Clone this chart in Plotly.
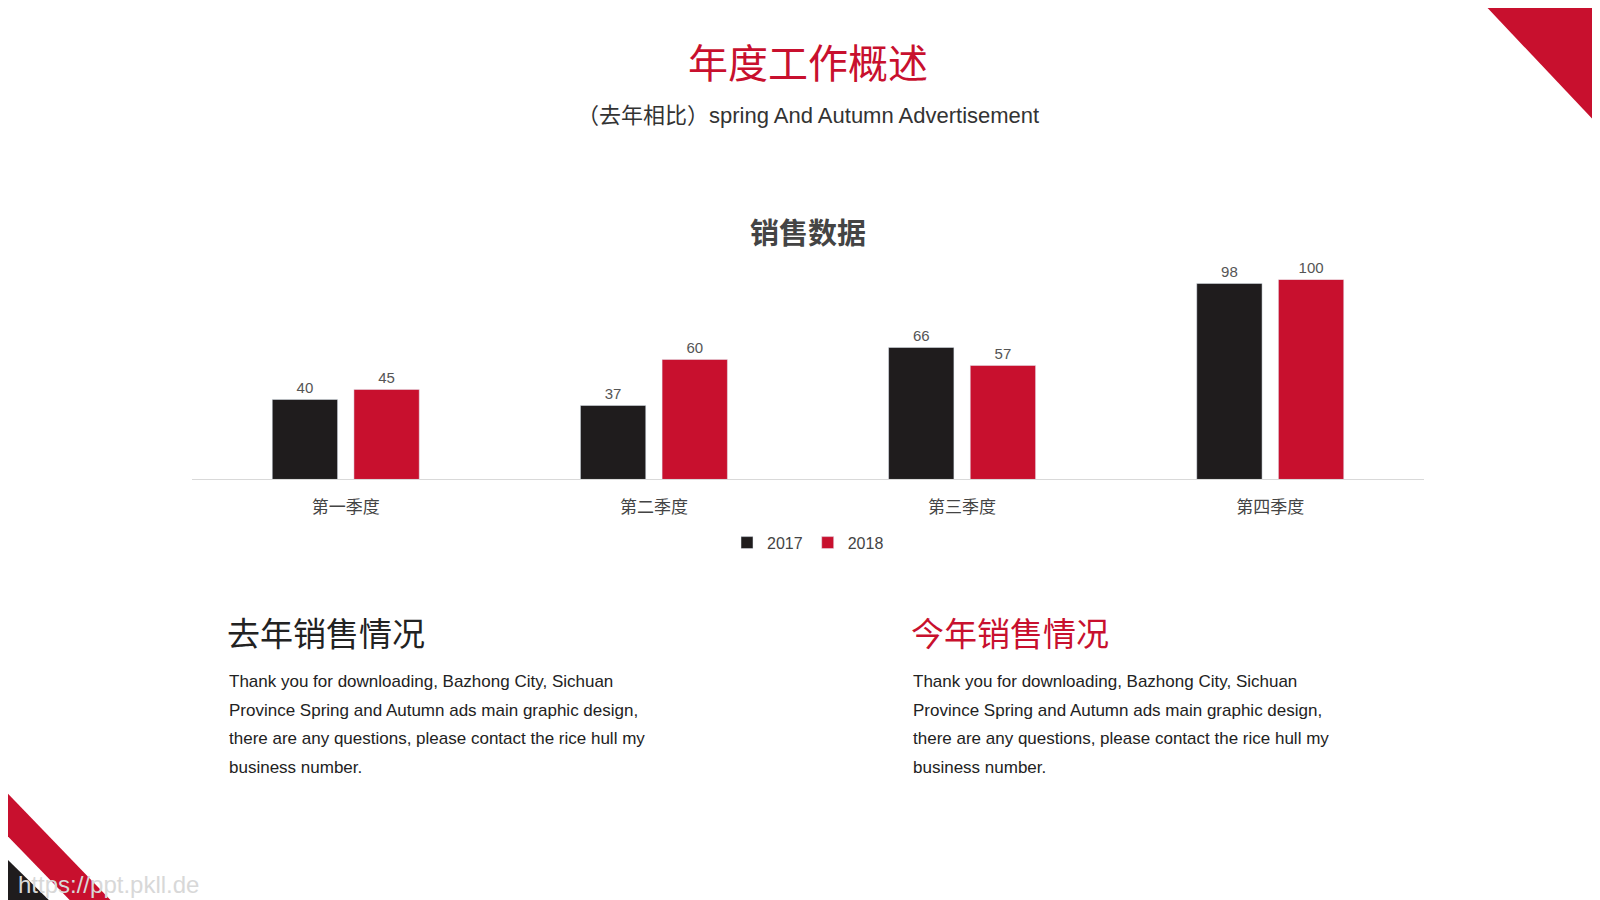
import plotly.graph_objects as go

quarters = ["第一季度", "第二季度", "第三季度", "第四季度"]
sales_2017 = [40, 37, 66, 98]
sales_2018 = [45, 60, 57, 100]
BLACK = "#1f1c1d"
RED = "#c8102e"
W, H = 1568.0, 882.0
FONT = "Liberation Sans, Noto Sans CJK SC"

fig = go.Figure()
for name, vals, col in [("2017", sales_2017, BLACK), ("2018", sales_2018, RED)]:
    fig.add_trace(go.Bar(x=quarters, y=vals, name=name, marker_color=col,
                         text=vals, textposition="outside", cliponaxis=False,
                         textfont=dict(size=15, color="#555555")))

def px(x): return x / W
def py(y): return 1 - y / H

shapes = [
    dict(type="path", xref="paper", yref="paper", fillcolor=RED, line_width=0,
         path=f"M {px(1450)} {py(0)} L {px(W)} {py(0)} L {px(W)} {py(125)} Z"),
    dict(type="path", xref="paper", yref="paper", fillcolor=RED, line_width=0,
         path=f"M 0 {py(770)} L {px(108)} {py(H)} L {px(68)} {py(H)} L 0 {py(812)} Z"),
    dict(type="path", xref="paper", yref="paper", fillcolor=BLACK, line_width=0,
         path=f"M 0 {py(835)} L {px(48)} {py(H)} L 0 {py(H)} Z"),
]

ann = [
    dict(text="年度工作概述", x=0.5, y=py(55), font=dict(size=40, color=RED)),
    dict(text="（去年相比）spring And Autumn Advertisement", x=0.5, y=py(105),
         font=dict(size=22, color="#333333")),
    dict(text="<b>销售数据</b>", x=0.5, y=py(221), font=dict(size=29, color="#444444")),
    dict(text="https://ppt.pkll.de", x=px(8), y=py(859), xanchor="left",
         font=dict(size=24, color="#d8d8d8")),
]
body = ["Thank you for downloading, Bazhong City, Sichuan",
        "Province Spring and Autumn ads main graphic design,",
        "there are any questions, please contact the rice hull my",
        "business number."]
for x0, head, col in [(215, "去年销售情况", "#222222"), (885, "今年销售情况", RED)]:
    ann.append(dict(text=head, x=px(x0 - 2), y=py(614), xanchor="left",
                    font=dict(size=33, color=col)))
    for i, line in enumerate(body):
        ann.append(dict(text=line, x=px(x0), y=py(660 + 28 * i), xanchor="left",
                        font=dict(size=17, color="#222222")))
for a in ann:
    a.update(xref="paper", yref="paper", showarrow=False,
             yanchor="middle", font=dict(family=FONT, **a["font"]))
    a.setdefault("xanchor", "center")

fig.update_layout(
    width=1600, height=900, margin=dict(l=0, r=0, t=0, b=0),
    paper_bgcolor="white", plot_bgcolor="white",
    font=dict(family=FONT),
    barmode="group", bargap=0.47, bargroupgap=0.2,
    xaxis=dict(domain=[px(180), px(1388)], showline=True, linecolor="#d9d9d9",
               tickfont=dict(size=17, color="#444444"), ticks="outside",
               ticklen=12, tickcolor="rgba(0,0,0,0)"),
    yaxis=dict(domain=[py(462), py(266)], range=[0, 100], visible=False),
    legend=dict(orientation="h", x=0.5, xanchor="center", y=py(524), yanchor="middle",
                font=dict(size=16, color="#444444"), itemwidth=30),
    shapes=shapes, annotations=ann,
)
fig.write_html("out.html")
